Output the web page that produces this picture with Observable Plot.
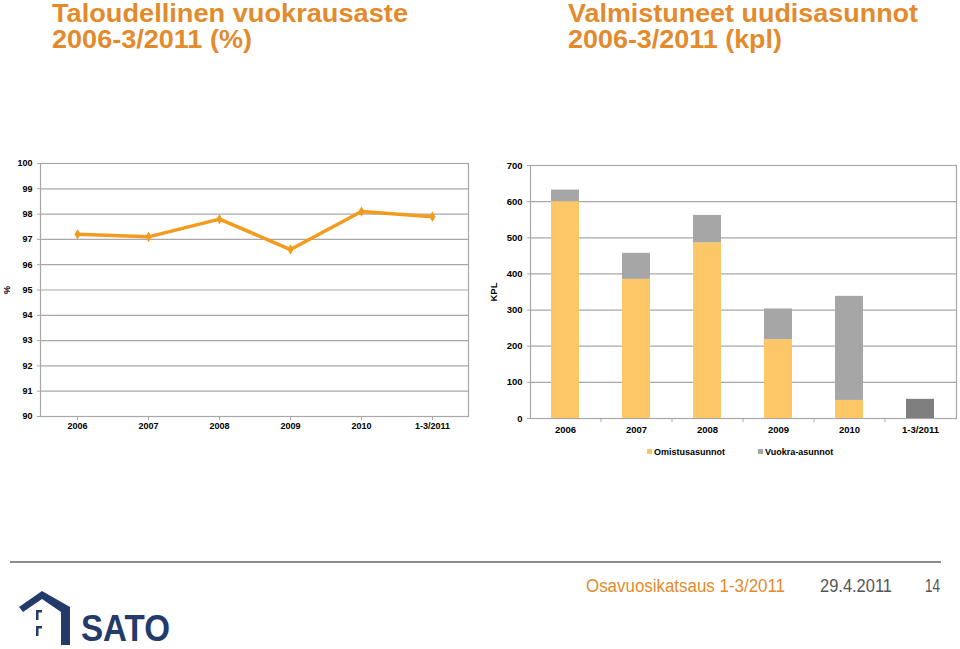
<!DOCTYPE html>
<html>
<head>
<meta charset="utf-8">
<script src="https://cdn.jsdelivr.net/npm/d3@7"></script>
<script src="https://cdn.jsdelivr.net/npm/@observablehq/plot@0.6"></script>
<style>
  html, body { margin: 0; padding: 0; background: #fff; }
  #page { position: relative; width: 960px; height: 649px; overflow: hidden; font-family: "Liberation Sans", Arial, sans-serif; }
  .title { position: absolute; color: #E38B2C; font-family: "Liberation Sans", Arial, sans-serif; font-weight: bold; font-size: 25px; line-height: 25px; white-space: nowrap; transform-origin: 0 0; }
  .chart { position: absolute; }
  .chart svg text { font-family: "Liberation Sans", Arial, sans-serif; font-weight: bold; }
  .legend { position: absolute; top: 447px; font-size: 9px; font-weight: bold; white-space: nowrap; }
  .legend span.sw { display: inline-block; width: 5px; height: 5px; margin-right: 2px; vertical-align: 1px; }
  .foot { position: absolute; top: 577px; font-family: "Liberation Sans", Arial, sans-serif; font-size: 18px; line-height: 18px; white-space: nowrap; transform-origin: 0 0; }
  .logo { position: absolute; left: 81px; top: 612px; color: #233A6B; font-family: "Liberation Sans", Arial, sans-serif; font-weight: bold; font-size: 36px; line-height: 34px; white-space: nowrap; transform-origin: 0 0; }
</style>
</head>
<body>
<div id="page">
  <div class="title" data-w="356" style="left:52px; top:1px;">Taloudellinen vuokrausaste</div>
  <div class="title" data-w="200" style="left:52px; top:27px;">2006-3/2011 (%)</div>
  <div class="title" data-w="350" style="left:568px; top:1px;">Valmistuneet uudisasunnot</div>
  <div class="title" data-w="214" style="left:568px; top:27px;">2006-3/2011 (kpl)</div>
  <div class="chart" id="left" style="left:0px; top:150px;"></div>
  <div class="chart" id="right" style="left:480px; top:150px;"></div>
  <div class="legend" id="legend" style="left:647px;"></div>
  <div style="position:absolute; left:10px; top:561px; width:931px; height:2px; background:#8C8C8C;"></div>
  <div class="foot" data-w="199" style="left:586px; color:#E38B2C;">Osavuosikatsaus 1-3/2011</div>
  <div class="foot" data-w="72" style="left:820px; color:#555;">29.4.2011</div>
  <div class="foot" data-w="15" style="left:925px; color:#555;">14</div>
  <svg style="position:absolute; left:0; top:585px;" width="80" height="64">
    <path d="M19,22 L42,6 L70,22 L70,60 L61,60 L61,27 L42,14 L23,27 Z" fill="#233A6B"/>
    <rect x="36" y="25" width="2.5" height="10" fill="#233A6B"/>
    <rect x="36" y="25" width="6" height="2.5" fill="#233A6B"/>
    <rect x="36" y="41" width="2.5" height="10" fill="#233A6B"/>
    <rect x="36" y="41" width="6" height="2.5" fill="#233A6B"/>
  </svg>
  <div class="logo" data-w="89">SATO</div>
</div>
<script>
// ---- Data ----
const categories = ["2006", "2007", "2008", "2009", "2010", "1-3/2011"];
const vuokrausaste = [97.2, 97.1, 97.8, 96.6, 98.1, 97.9];           // %
const omistusasunnot = [600, 385, 486, 218, 50, null];              // kpl
const vuokraAsunnot = [32, 72, 76, 85, 288, null];                  // kpl
const kaikkiAsunnot = [null, null, null, null, null, 53];           // kpl (not split)
const seriesNames = ["Omistusasunnot", "Vuokra-asunnot"];
const leftTicks = d3.range(90, 101, 1);
const rightTicks = d3.range(0, 701, 100);

const ORANGE_LINE = "#F29B1E";
const GRID = "#A8A8A8";
const colors = {"Omistusasunnot": "#FDC768", "Vuokra-asunnot": "#A6A6A6", "Yhteensä": "#7F7F7F"};

// ---- Left chart: line ----
const lineData = categories.map((c, i) => ({cat: c, value: vuokrausaste[i]}));
const left = Plot.plot({
  width: 480, height: 290,
  marginLeft: 40, marginRight: 12, marginTop: 13, marginBottom: 24,
  style: {fontSize: "9px", color: "#000", background: "transparent"},
  x: {type: "point", domain: categories, padding: 0.5, label: null},
  y: {domain: [90, 100], label: null},
  marks: [
    Plot.ruleY(leftTicks, {stroke: GRID, strokeWidth: 1.2}),
    Plot.frame({stroke: GRID, strokeWidth: 1.2}),
    Plot.axisY({ticks: leftTicks, tickSize: 3, tickPadding: 5, stroke: GRID, label: "%", labelAnchor: "center", labelArrow: "none", labelOffset: 37, fill: "#000"}),
    Plot.axisX({tickSize: 4, tickPadding: 2, stroke: GRID, fill: "#000"}),
    Plot.line(lineData, {x: "cat", y: "value", stroke: ORANGE_LINE, strokeWidth: 3.5}),
    Plot.dot(lineData, {x: "cat", y: "value", symbol: "diamond", r: 3.2, fill: ORANGE_LINE})
  ]
});
document.getElementById("left").append(left);

// ---- Right chart: stacked bars ----
const barData = [];
categories.forEach((c, i) => {
  if (omistusasunnot[i] != null) barData.push({cat: c, series: "Omistusasunnot", value: omistusasunnot[i]});
  if (vuokraAsunnot[i] != null) barData.push({cat: c, series: "Vuokra-asunnot", value: vuokraAsunnot[i]});
  if (kaikkiAsunnot[i] != null) barData.push({cat: c, series: "Yhteensä", value: kaikkiAsunnot[i]});
});
const right = Plot.plot({
  width: 480, height: 295,
  marginLeft: 50, marginRight: 4, marginTop: 15, marginBottom: 27,
  style: {fontSize: "9.5px", color: "#000", background: "transparent"},
  x: {type: "band", domain: categories, paddingInner: 0.6, paddingOuter: 0.3, label: null},
  y: {domain: [0, 700], label: null},
  marks: [
    Plot.ruleY(rightTicks, {stroke: GRID, strokeWidth: 1.2}),
    Plot.frame({stroke: GRID, strokeWidth: 1.2}),
    Plot.axisY({ticks: rightTicks, tickSize: 3, tickPadding: 5, stroke: GRID, label: "KPL", labelAnchor: "center", labelArrow: "none", labelOffset: 40, fill: "#000"}),
    Plot.axisX({tickSize: 0, tickPadding: 8, fill: "#000"}),
    Plot.ruleX(categories.slice(1), {x: d => d, dx: -35.5, y1: 0, y2: 0, insetBottom: -4, stroke: GRID}),
    Plot.barY(barData, Plot.stackY({x: "cat", y: "value", fill: d => colors[d.series]}))
  ]
});
document.getElementById("right").append(right);

// ---- Legend ----
const legend = document.getElementById("legend");
seriesNames.forEach((s, i) => {
  const item = document.createElement("span");
  item.style.display = "inline-block";
  item.style.marginRight = i === 0 ? "33px" : "0";
  item.innerHTML = `<span class="sw" style="background:${colors[s]}"></span>${s}`;
  legend.append(item);
});

// ---- Fit condensed-looking text to the reference widths ----
document.querySelectorAll("[data-w]").forEach(el => {
  const w = el.getBoundingClientRect().width;
  const target = +el.dataset.w;
  if (w > 0) el.style.transform = `scaleX(${target / w})`;
});
</script>
</body>
</html>
